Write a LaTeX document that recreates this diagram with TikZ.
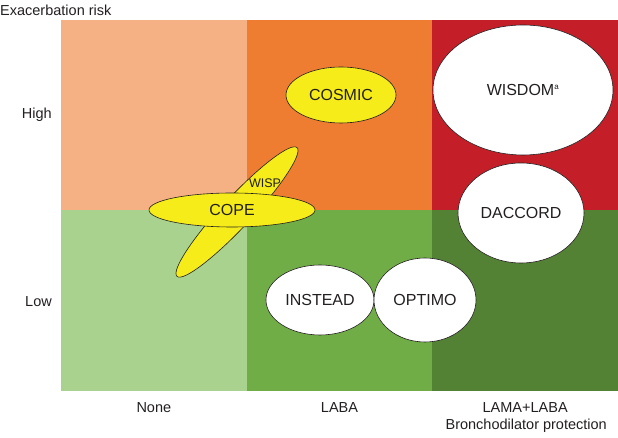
\documentclass[tikz,border=0pt]{standalone}
\usepackage{fontspec}
\setmainfont{Liberation Sans}
\usetikzlibrary{shapes.geometric}

\definecolor{noneHigh}{HTML}{F5B084}
\definecolor{labaHigh}{HTML}{EE7D32}
\definecolor{dualHigh}{HTML}{C41E28}
\definecolor{noneLow}{HTML}{A9D28E}
\definecolor{labaLow}{HTML}{70AD47}
\definecolor{dualLow}{HTML}{548235}
\definecolor{trialYellow}{HTML}{F5EC19}
\definecolor{ink}{HTML}{231F20}

\newlength\colWidth
\setlength\colWidth{185.67pt}
\newlength\lowHeight
\setlength\lowHeight{181pt}
\newlength\highHeight
\setlength\highHeight{190pt}

\tikzset{
  trial/.style={ellipse, draw=ink, line width=0.6pt, inner sep=0pt,
    text=ink, font=\fontsize{16}{18}\selectfont},
  axislabel/.style={text=ink, font=\fontsize{14.5}{17}\selectfont, inner sep=0pt}
}

\newcommand\drawGrid{
  \foreach \i/\low/\high in {0/noneLow/noneHigh,1/labaLow/labaHigh,2/dualLow/dualHigh} {
    \fill[\low] (\i*\colWidth,0) rectangle ++(\colWidth,\lowHeight);
    \fill[\high] (\i*\colWidth,\lowHeight) rectangle ++(\colWidth,\highHeight);
  }
}

\begin{document}
\begin{tikzpicture}[x=1pt,y=1pt]
    \useasboundingbox (-61,-47) rectangle (557,391);
    \drawGrid

    % yellow trials
    \node[trial, fill=trialYellow, rotate=47, minimum width=176pt, minimum height=30pt] (wisp) at (176,179) {};
    \node[trial, fill=trialYellow, minimum width=166pt, minimum height=34pt] (cope) at (171,181) {COPE};
    \node[text=ink, inner sep=0pt, font=\fontsize{12.5}{14}\selectfont] (wispLabel) at (204,208) {WISP};
    \node[trial, fill=trialYellow, minimum width=110pt, minimum height=56pt] (cosmic) at (280,296) {COSMIC};

    % white trials
    \node[trial, fill=white, minimum width=180pt, minimum height=130pt] (wisdom) at (462,301) {WISDOM\textsuperscript{\fontsize{8}{9}\selectfont a}};
    \node[trial, fill=white, minimum width=126pt, minimum height=100pt] (daccord) at (460,178) {DACCORD};
    \node[trial, fill=white, minimum width=108pt, minimum height=70pt] (instead) at (259,91) {INSTEAD};
    \node[trial, fill=white, minimum width=102pt, minimum height=84pt] (optimo) at (364,91) {OPTIMO};

    % axes
    \node[axislabel, anchor=west] (riskTitle) at (-61,381) {Exacerbation risk};
    \node[axislabel, anchor=east] (high) at (-9,276) {High};
    \node[axislabel, anchor=east] (low) at (-9,89) {Low};
    \foreach \i/\name/\txt in {0/none/None,1/laba/LABA,2/dual/LAMA+LABA} {
      \node[axislabel] (\name) at (\i*\colWidth+0.5*\colWidth,-17) {\txt};
    }
    \node[axislabel, anchor=east] (protTitle) at (546,-35) {Bronchodilator protection};
  \end{tikzpicture}
\end{document}
